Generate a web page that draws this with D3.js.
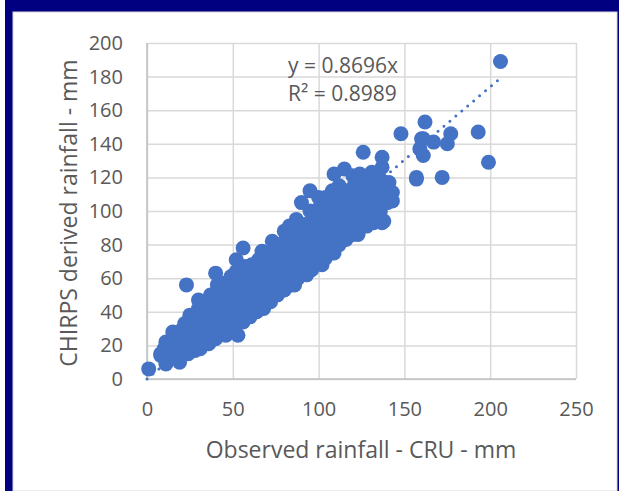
<!DOCTYPE html>
<html>
<head>
<meta charset="utf-8">
<script src="https://cdn.jsdelivr.net/npm/d3@7"></script>
<style>
  body { margin: 0; background: #fff; }
  svg { display: block; font-family: "Open Sans", sans-serif; }
</style>
</head>
<body>
<svg width="620" height="491"></svg>
<script>
// observed CRU rainfall (mm) vs CHIRPS derived rainfall (mm)
const rainfallPairs = [
  [1, 6], [8, 15], [11, 9], [8, 14], [10, 18], [12, 11], [11, 22], [14, 16], [13, 20],
  [16, 13], [16, 19], [17, 25], [15, 28],
  [19, 10], [20, 17], [21, 23], [20, 29], [22, 33],
  [24, 15], [24, 21], [25, 27], [23, 33], [25, 38], [23, 56],
  [28, 17], [28, 24], [29, 30], [27, 36], [30, 42], [30, 47],
  [31, 18], [32, 25], [33, 31], [32, 38], [31, 44],
  [36, 21], [36, 28], [37, 34], [35, 40], [36, 46], [37, 50],
  [40, 24], [40, 31], [41, 37], [39, 43], [40, 50], [41, 56], [40, 63],
  [44, 27], [44, 33], [45, 39], [43, 46], [44, 52], [45, 57],
  [46, 26], [48, 30], [48, 36], [49, 43], [47, 49], [48, 55], [49, 61],
  [53, 26], [52, 33], [52, 40], [51, 46], [53, 52], [52, 58], [52, 64], [52, 71],
  [56, 34], [56, 41], [57, 48], [55, 54], [56, 61], [57, 67], [56, 78],
  [60, 37], [60, 43], [61, 50], [59, 56], [60, 62], [61, 68],
  [64, 40], [64, 47], [65, 53], [63, 59], [64, 65], [65, 71],
  [68, 42], [68, 49], [69, 55], [67, 61], [68, 67], [69, 73], [67, 76],
  [72, 46], [72, 52], [73, 58], [71, 64], [72, 70], [73, 76], [73, 82],
  [76, 50], [76, 56], [77, 62], [75, 68], [76, 74], [77, 80],
  [80, 53], [80, 59], [81, 65], [79, 71], [80, 77], [81, 83], [80, 88],
  [84, 56], [84, 62], [85, 68], [83, 74], [84, 80], [85, 86], [83, 91],
  [86, 56], [88, 60], [88, 66], [89, 72], [87, 78], [88, 84], [89, 90], [87, 95],
  [93, 62], [92, 68], [92, 74], [91, 80], [93, 86], [92, 92], [90, 105],
  [96, 65], [96, 71], [97, 77], [95, 83], [96, 89], [97, 95], [95, 100], [95, 112],
  [102, 68], [100, 74], [100, 80], [101, 86], [99, 92], [100, 98], [101, 103], [100, 108],
  [104, 72], [104, 78], [105, 84], [103, 90], [104, 96], [105, 102], [104, 108],
  [109, 75], [108, 82], [108, 88], [107, 94], [109, 100], [108, 106], [108, 112], [109, 122],
  [112, 80], [112, 86], [113, 92], [111, 98], [112, 104], [113, 110], [112, 115],
  [116, 83], [116, 89], [117, 95], [115, 101], [116, 107], [117, 112], [115, 125],
  [120, 86], [120, 92], [121, 98], [119, 104], [120, 110], [121, 116], [120, 121],
  [123, 86], [124, 92], [125, 98], [123, 104], [124, 110], [125, 116], [124, 122], [126, 135],
  [128, 91], [128, 97], [129, 103], [127, 109], [128, 115], [129, 121],
  [132, 93], [132, 99], [133, 105], [131, 111], [132, 117], [131, 123],
  [137, 93], [136, 100], [137, 106], [136, 112], [137, 118], [137, 126], [137, 132],
  [140, 105], [141, 110], [141, 117], [143, 111], [143, 106], [138, 94],
  [148, 146], [157, 120], [157, 119], [159, 137], [161, 133], [160, 143], [161, 143],
  [162, 153], [167, 141], [172, 120], [175, 140], [177, 146], [193, 147], [199, 129],
  [206, 189]
];

const xTicks = [0, 50, 100, 150, 200, 250];
const yTicks = [0, 20, 40, 60, 80, 100, 120, 140, 160, 180, 200];
const trendSlope = 0.8696;
const trendLabel = "y = 0.8696x";
const r2Label = "R² = 0.8989";

const svg = d3.select("svg");

// frame
svg.append("rect").attr("x", 5).attr("y", 0).attr("width", 614).attr("height", 491).attr("fill", "#000080");
svg.append("rect").attr("x", 13).attr("y", 12).attr("width", 604).attr("height", 479)
  .attr("fill", "#fff").attr("stroke", "#d9d9d9").attr("stroke-width", 1);

const x = d3.scaleLinear().domain([0, 250]).range([147, 576]);
const y = d3.scaleLinear().domain([0, 200]).range([379, 43]);

const plotW = x(250) - x(0);
const plotH = y(0) - y(200);

// gridlines + tick labels
const gx = svg.append("g")
  .attr("transform", `translate(0,${y(0)})`)
  .call(d3.axisBottom(x).tickValues(xTicks).tickSize(-plotH).tickPadding(23));
const gy = svg.append("g")
  .attr("transform", `translate(${x(0)},0)`)
  .call(d3.axisLeft(y).tickValues(yTicks).tickSize(-plotW).tickPadding(24));

[gx, gy].forEach(g => {
  g.select(".domain").remove();
  g.selectAll(".tick line").attr("stroke", "#d9d9d9").attr("stroke-width", 1.5);
  g.selectAll(".tick text")
    .attr("fill", "#595959")
    .style("font-size", "20px")
    .style("font-family", "'Open Sans', sans-serif");
});

// axis lines
svg.append("line").attr("x1", x(0)).attr("x2", x(250)).attr("y1", y(0)).attr("y2", y(0))
  .attr("stroke", "#bfbfbf").attr("stroke-width", 1.5);
svg.append("line").attr("x1", x(0)).attr("x2", x(0)).attr("y1", y(0)).attr("y2", y(200))
  .attr("stroke", "#bfbfbf").attr("stroke-width", 1.5);

// points
svg.append("g")
  .selectAll("circle")
  .data(rainfallPairs)
  .join("circle")
  .attr("cx", d => x(d[0]))
  .attr("cy", d => y(d[1]))
  .attr("r", 7.5)
  .attr("fill", "#4472c4");

// trendline through origin
const xMax = d3.max(rainfallPairs, d => d[0]);
svg.append("line")
  .attr("x1", x(0)).attr("y1", y(0))
  .attr("x2", x(xMax)).attr("y2", y(xMax * trendSlope))
  .attr("stroke", "#4472c4")
  .attr("stroke-width", 3)
  .attr("stroke-linecap", "round")
  .attr("stroke-dasharray", "0 7.8");

// equation
svg.append("text").attr("x", 288).attr("y", 73)
  .attr("fill", "#595959").style("font-size", "21px").text(trendLabel);
svg.append("text").attr("x", 288).attr("y", 101)
  .attr("fill", "#595959").style("font-size", "21px").text(r2Label);

// axis titles
svg.append("text")
  .attr("x", 361).attr("y", 458)
  .attr("text-anchor", "middle")
  .attr("fill", "#595959").style("font-size", "23px")
  .text("Observed rainfall - CRU - mm");

svg.append("text")
  .attr("transform", `translate(77,213) rotate(-90)`)
  .attr("text-anchor", "middle")
  .attr("fill", "#595959").style("font-size", "23px")
  .text("CHIRPS derived rainfall - mm");
</script>
</body>
</html>
